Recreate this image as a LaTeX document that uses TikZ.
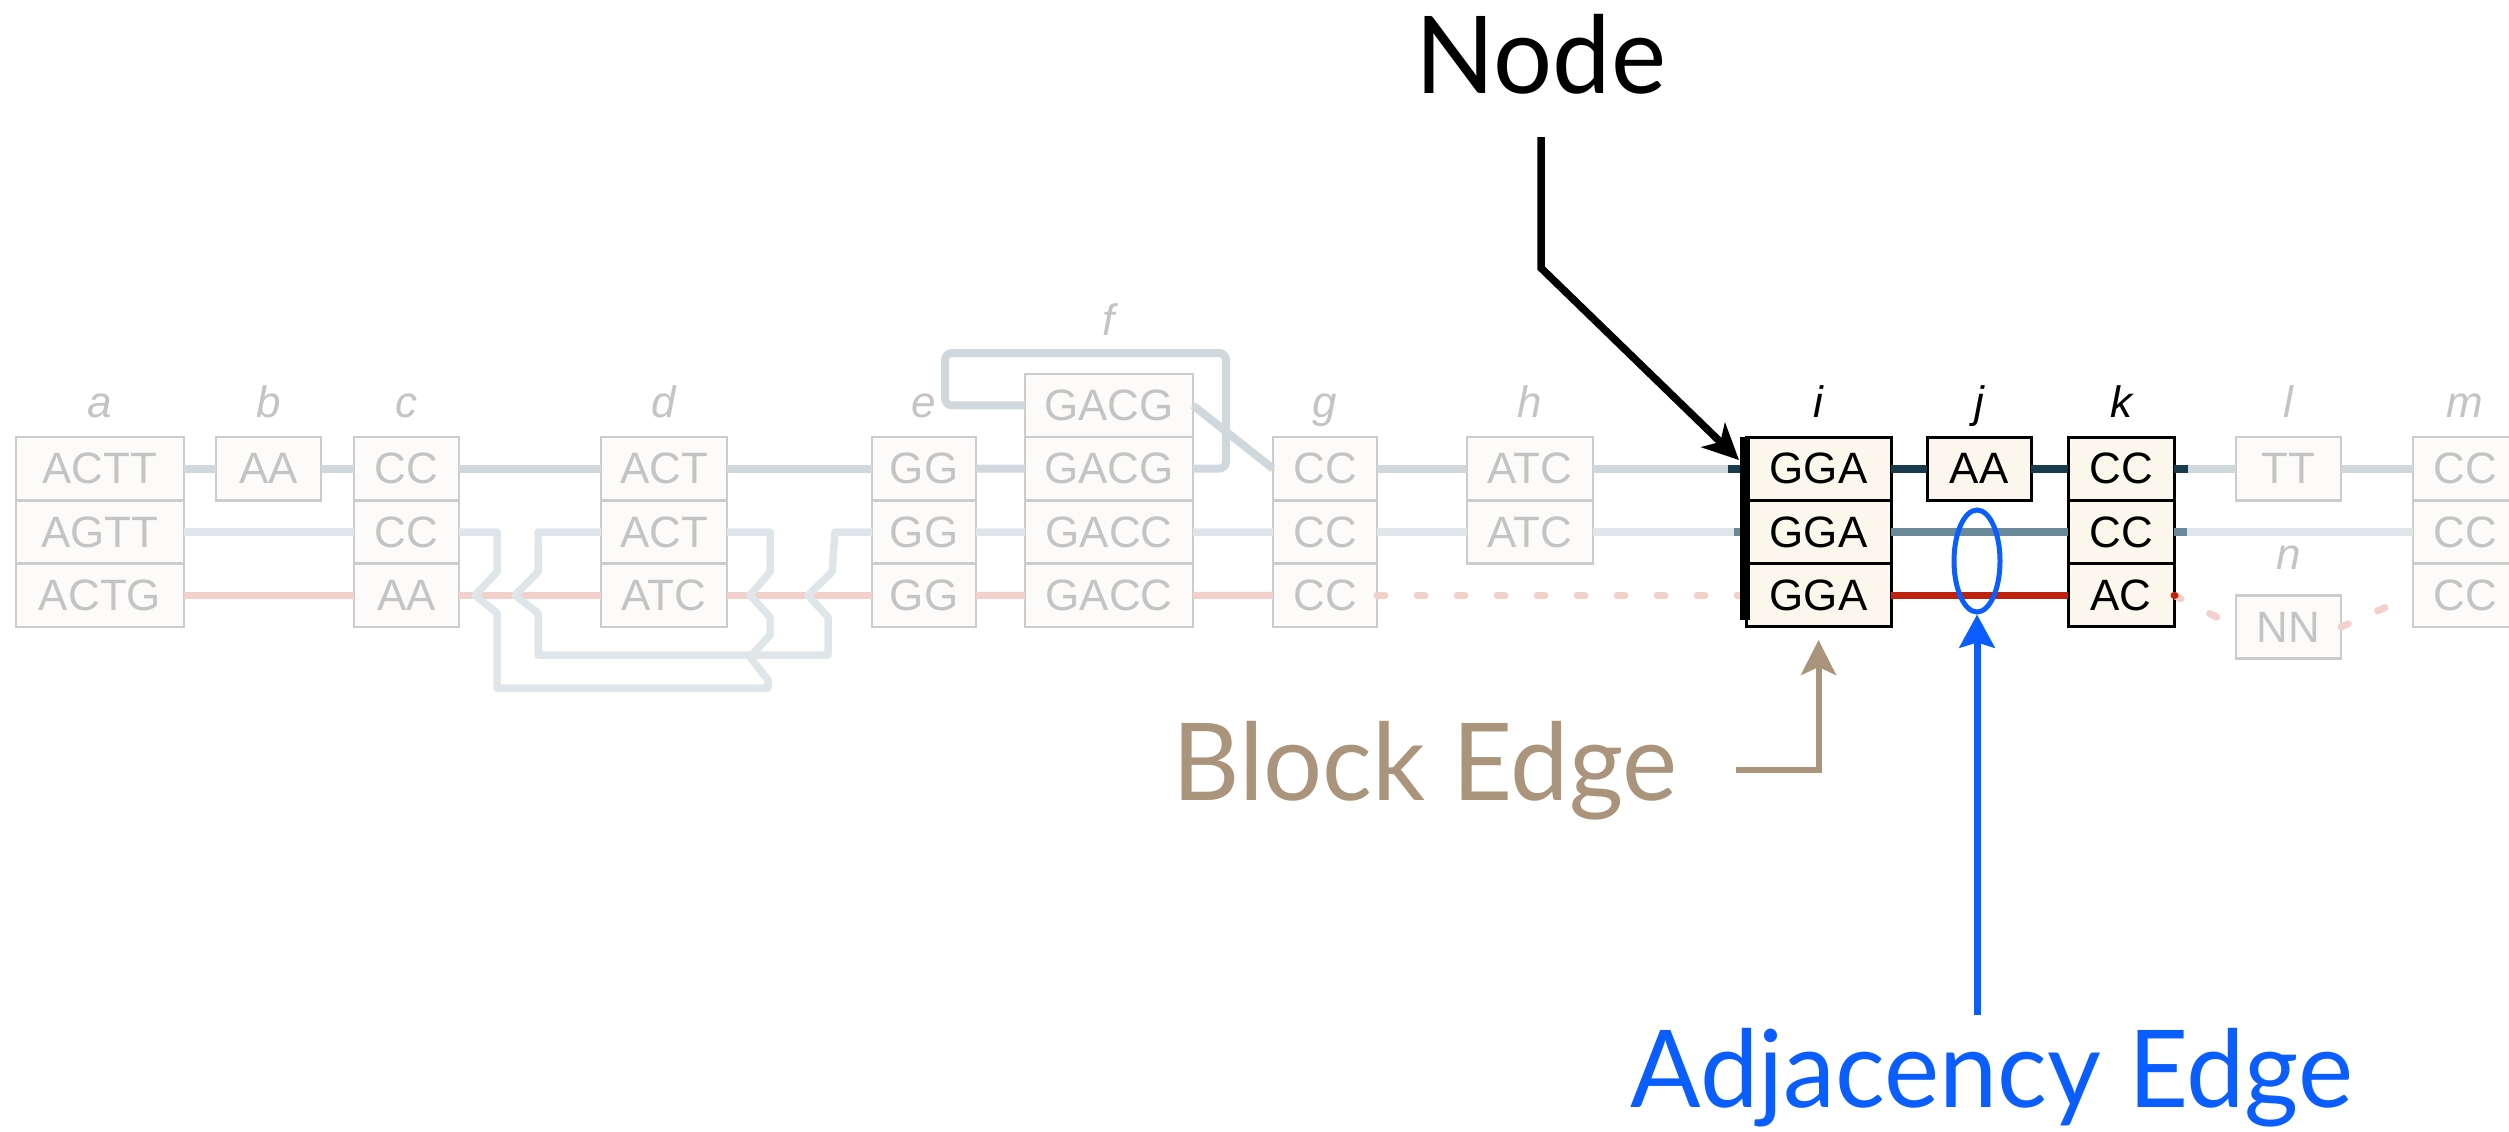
\documentclass[tikz,border=0pt]{standalone}
\usepackage{fontspec}
\setmainfont{Liberation Sans}
\newfontfamily\callfont[FakeStretch=0.97]{Lato}
\usetikzlibrary{arrows.meta,positioning,shapes.geometric}
\definecolor{faded}{HTML}{CCCCCC}
\definecolor{fadedtxt}{HTML}{C4C4C4}
\definecolor{cellbg}{HTML}{FCFBF9}
\definecolor{cellon}{HTML}{FBF7EC}
\definecolor{toprow}{HTML}{CFD8DC}
\definecolor{midrow}{HTML}{DFE6E9}
\definecolor{botrow}{HTML}{F2D1CC}
\definecolor{topon}{HTML}{173B4B}
\definecolor{midon}{HTML}{698999}
\definecolor{boton}{HTML}{C0210D}
\definecolor{blockbrown}{HTML}{AA947B}
\definecolor{adjblue}{HTML}{0A5EFF}
\newcommand{\seqfont}{\fontsize{12.5pt}{14pt}\selectfont}
\newcommand{\calltext}{\callfont\fontsize{30.6pt}{34pt}\selectfont}

\begin{document}
\begin{tikzpicture}[
  seq/.style={draw=faded, fill=cellbg, text=fadedtxt, line width=0.7pt,
              minimum height=0.633cm, inner sep=0pt, outer sep=0pt, font=\seqfont},
  seqon/.style={seq, draw=black, fill=cellon, text=black, line width=0.85pt},
  tag/.style={font=\seqfont\itshape, text=fadedtxt, inner sep=0pt},
  tagon/.style={tag, text=black},
  topedge/.style={line width=0.08cm, draw=toprow, line join=round},
  midedge/.style={line width=0.075cm, draw=midrow, line join=round},
  botedge/.style={line width=0.07cm, draw=botrow},
  botdots/.style={botedge, line cap=round, dash pattern=on 0.08cm off 0.32cm},
  call/.style={font=\calltext, inner sep=0pt},
  nodearr/.style={-{Stealth[length=0.36cm, width=0.34cm, inset=0.1cm]}, line width=0.075cm},
  blockarr/.style={-{Stealth[length=0.35cm, width=0.35cm, inset=0.08cm]}, line width=0.06cm,
                   draw=blockbrown},
  adjarr/.style={-{Stealth[length=0.33cm, width=0.35cm, inset=0.05cm]}, line width=0.07cm,
                 draw=adjblue},
]
  \useasboundingbox (0,0) rectangle (25.09,-11.31);

  % faded blocks
  \node[seq, minimum width=1.68cm] (a1) at (1.00,-4.687) {ACTT};
  \node[seq, minimum width=1.68cm, below=0pt of a1] (a2) {AGTT};
  \node[seq, minimum width=1.68cm, below=0pt of a2] (a3) {ACTG};
  \node[seq, minimum width=1.05cm] (b1) at (2.685,-4.687) {AA};
  \node[seq, minimum width=1.05cm] (c1) at (4.065,-4.687) {CC};
  \node[seq, minimum width=1.05cm, below=0pt of c1] (c2) {CC};
  \node[seq, minimum width=1.05cm, below=0pt of c2] (c3) {AA};
  \node[seq, minimum width=1.26cm] (d1) at (6.64,-4.687) {ACT};
  \node[seq, minimum width=1.26cm, below=0pt of d1] (d2) {ACT};
  \node[seq, minimum width=1.26cm, below=0pt of d2] (d3) {ATC};
  \node[seq, minimum width=1.04cm] (e1) at (9.24,-4.687) {GG};
  \node[seq, minimum width=1.04cm, below=0pt of e1] (e2) {GG};
  \node[seq, minimum width=1.04cm, below=0pt of e2] (e3) {GG};
  \node[seq, minimum width=1.68cm] (f0) at (11.09,-4.054) {GACG};
  \node[seq, minimum width=1.68cm, below=0pt of f0] (f1) {GACG};
  \node[seq, minimum width=1.68cm, below=0pt of f1] (f2) {GACC};
  \node[seq, minimum width=1.68cm, below=0pt of f2] (f3) {GACC};
  \node[seq, minimum width=1.04cm] (g1) at (13.25,-4.687) {CC};
  \node[seq, minimum width=1.04cm, below=0pt of g1] (g2) {CC};
  \node[seq, minimum width=1.04cm, below=0pt of g2] (g3) {CC};
  \node[seq, minimum width=1.26cm] (h1) at (15.30,-4.687) {ATC};
  \node[seq, minimum width=1.26cm, below=0pt of h1] (h2) {ATC};
  \node[seq, minimum width=1.05cm] (l1) at (22.885,-4.687) {TT};
  \node[seq, minimum width=1.05cm] (n1) at (22.885,-6.27) {NN};
  \node[seq, minimum width=1.04cm] (m1) at (24.65,-4.687) {CC};
  \node[seq, minimum width=1.04cm, below=0pt of m1] (m2) {CC};
  \node[seq, minimum width=1.04cm, below=0pt of m2] (m3) {CC};

  % highlighted block
  \node[seqon, minimum width=1.45cm] (i1) at (18.185,-4.687) {GGA};
  \node[seqon, minimum width=1.45cm, below=0pt of i1] (i2) {GGA};
  \node[seqon, minimum width=1.45cm, below=0pt of i2] (i3) {GGA};
  \node[seqon, minimum width=1.04cm] (j1) at (19.79,-4.687) {AA};
  \node[seqon, minimum width=1.06cm] (k1) at (21.21,-4.687) {CC};
  \node[seqon, minimum width=1.06cm, below=0pt of k1] (k2) {CC};
  \node[seqon, minimum width=1.06cm, below=0pt of k2] (k3) {AC};

  \node[tag, above=0.2cm of a1, anchor=base] (ta) {a};
  \node[tag, above=0.2cm of b1, anchor=base] (tb) {b};
  \node[tag, above=0.2cm of c1, anchor=base] (tc) {c};
  \node[tag, above=0.2cm of d1, anchor=base] (td) {d};
  \node[tag, above=0.2cm of e1, anchor=base] (te) {e};
  \node[tag, above=0.38cm of f0, anchor=base] (tf) {f};
  \node[tag, above=0.2cm of g1, anchor=base] (tg) {g};
  \node[tag, above=0.2cm of h1, anchor=base] (th) {h};
  \node[tagon, above=0.2cm of i1, anchor=base] (ti) {i};
  \node[tagon, above=0.2cm of j1, anchor=base] (tj) {j};
  \node[tagon, above=0.2cm of k1, anchor=base] (tk) {k};
  \node[tag, above=0.2cm of l1, anchor=base] (tl) {l};
  \node[tag, above=0.2cm of m1, anchor=base] (tm) {m};
  \node[tag, above=0.26cm of n1, anchor=base] (tn) {n};

  % top row
  \draw[topedge] (a1) -- (b1);
  \draw[topedge] (b1) -- (c1);
  \draw[topedge] (c1) -- (d1);
  \draw[topedge] (d1) -- (e1);
  \draw[topedge] (e1) -- (f1);
  \draw[topedge, rounded corners=2pt] (f1.east) -| (12.26,-3.53) -| (9.45,-4.054) -- (f0.west);
  \draw[topedge] (f0.east) -- (g1.west);
  \draw[topedge] (g1) -- (h1);
  \draw[topedge] (h1) -- (i1);
  \draw[topedge] (k1) -- (l1);
  \draw[topedge] (l1) -- (m1);

  % bottom row
  \draw[botedge] (a3) -- (c3);
  \draw[botedge] (c3) -- (d3);
  \draw[botedge] (d3) -- (e3);
  \draw[botedge] (e3) -- (f3);
  \draw[botedge] (f3) -- (g3);
  \draw[botdots] (g3.east) -- ([xshift=-0.05cm]i3.west);
  \draw[botdots] (k3.east) -- (n1.west);
  \draw[botdots] (n1.east) -- (m3.west);

  % middle row
  \draw[midedge] (a2) -- (c2);
  \draw[midedge] (c2.east) -- (4.97,-5.32) -- (4.97,-5.72) -- (4.75,-5.953) -- (4.97,-6.13)
    -- (4.97,-6.88) -- (7.68,-6.88) -- (7.68,-6.80) -- (7.50,-6.57) -- (7.70,-6.35)
    -- (7.70,-6.17) -- (7.50,-5.953) -- (7.70,-5.72) -- (7.70,-5.32) -- (d2.east);
  \draw[midedge] (d2.west) -- (5.38,-5.32) -- (5.38,-5.72) -- (5.15,-5.953) -- (5.38,-6.13)
    -- (5.38,-6.55) -- (8.28,-6.55) -- (8.28,-6.17) -- (8.08,-5.953) -- (8.32,-5.72)
    -- (8.35,-5.32) -- (e2.west);
  \draw[midedge] (e2) -- (f2);
  \draw[midedge] (f2) -- (g2);
  \draw[midedge] (g2) -- (h2);
  \draw[midedge] (h2) -- (i2);
  \draw[midedge] (k2) -- (m2);

  % block edges
  \draw[topedge, draw=topon] (i1) -- (j1);
  \draw[topedge, draw=topon] (j1) -- (k1);
  \draw[topedge, draw=topon] ([xshift=-0.18cm]i1.west) -- (i1.west);
  \draw[topedge, draw=topon] (k1.east) -- ++(0.14,0);
  \draw[midedge, draw=midon] (i2) -- (k2);
  \draw[midedge, draw=midon] ([xshift=-0.12cm]i2.west) -- (i2.west);
  \draw[midedge, draw=midon] (k2.east) -- ++(0.13,0);
  \draw[botedge, draw=boton] (i3) -- (k3);
  \draw[botedge, draw=boton, line cap=round] (k3.east) -- ++(0.01,0);
  \draw[line width=0.1cm] ([xshift=-0.01cm]i1.north west) -- ([xshift=-0.01cm,yshift=0.07cm]i3.south west);

  % callouts
  \node[call, anchor=base] (nodetxt) at (15.41,-0.93) {Node};
  \node[call, anchor=base west, text=blockbrown] (blocktxt) at (11.72,-8.00) {Block Edge};
  \node[call, anchor=base west, text=adjblue] (adjtxt) at (16.30,-11.07) {Adjacency Edge};
  \node[ellipse, draw=adjblue, line width=0.05cm, minimum width=0.46cm, minimum height=1.02cm,
        inner sep=0pt] (adj) at (19.77,-5.61) {};

  \draw[nodearr] ([yshift=-0.44cm]nodetxt.base) -- ++(0,-1.31)
    -- ([xshift=-0.07cm,yshift=-0.23cm]i1.north west);
  \draw[blockarr] ([xshift=0.58cm]blocktxt.east) -| ([yshift=-0.13cm]i3.south);
  \draw[adjarr] (adj.south |- adjtxt.north) ++(0,0.12) -- (adj.south);
\end{tikzpicture}
\end{document}
